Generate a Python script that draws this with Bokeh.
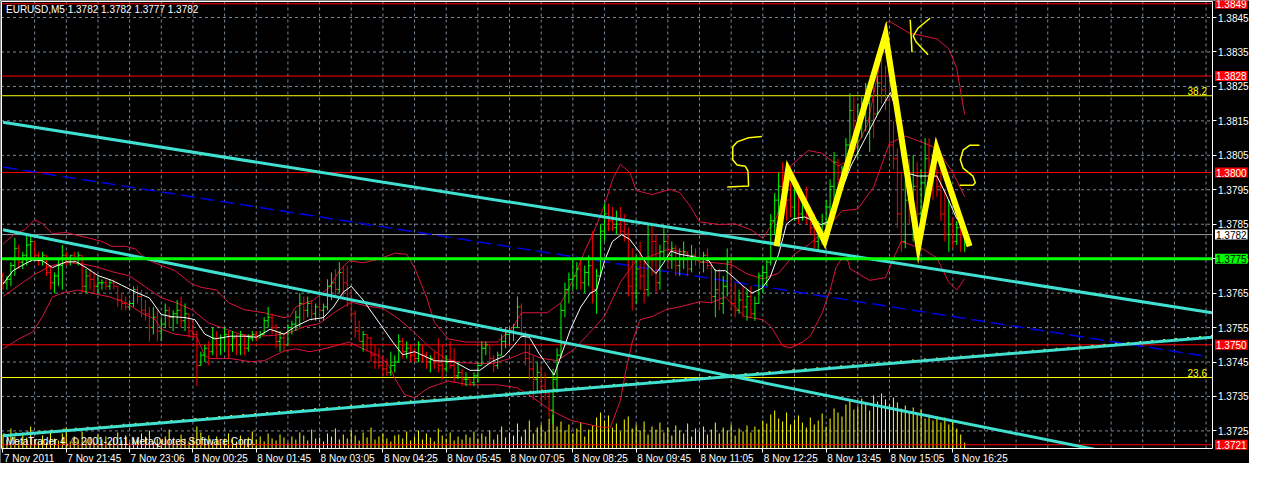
import numpy as np
from bokeh.plotting import figure
from bokeh.models import (Range1d, FixedTicker, Label, LabelSet, ColumnDataSource,
                          PrintfTickFormatter, LinearAxis)
from bokeh.transform import dodge
from bokeh.embed import file_html
from bokeh.resources import INLINE
from bokeh.core.properties import value

FONT = "Liberation Sans"
BASE = 1.3700
PIP = 0.0001

# ---------------- data (prices in pips above 1.3700) ----------------
high_pips = [71,70,74,81,79,77,82,82,80,77,77,76,73,71,75,79,77,76,77,77,
             76,72,72,71,70,69,69,69,69,67,65,64,63,67,67,66,63,61,61,60,
             58,62,61,60,63,64,62,59,57,54,48,50,51,55,54,53,55,54,54,53,
             54,53,53,54,54,54,58,61,59,56,54,53,56,57,60,65,64,64,63,62,
             64,62,69,71,72,74,73,73,66,60,57,54,53,52,50,49,47,46,48,47,
             53,52,51,50,49,51,50,48,47,48,52,50,47,51,49,45,43,42,40,42,
             45,51,51,50,47,48,53,55,55,56,64,62,54,50,47,45,44,42,37,43,
             49,62,68,71,75,74,75,73,76,83,72,85,91,91,90,89,90,88,84,78,
             76,80,75,85,85,82,79,84,82,80,79,78,80,77,79,78,78,77,78,73,
             72,72,70,78,76,68,66,67,66,67,64,71,73,75,88,94,100,103,99,97,
             98,97,94,96,90,88,86,88,92,98,106,104,102,110,123,122,120,122,126,124,
             125,128,133,131,126,115,107,100,98,104,105,103,101,110,110,104,102,101,95,92,
             87,86,85,82]
low_pips = [66,66,67,70,72,72,73,74,75,73,73,70,66,65,67,66,73,73,74,73,
            65,65,66,65,65,66,66,66,66,61,60,60,60,61,62,58,57,51,53,51,
            51,55,55,54,56,55,54,52,52,38,44,45,44,47,46,47,48,46,48,47,
            47,47,48,51,51,52,53,55,53,49,48,48,50,53,54,55,57,58,57,57,
            58,57,60,63,64,65,64,61,57,52,51,48,48,45,43,43,41,41,41,42,
            45,46,46,45,45,45,45,43,42,43,42,40,42,43,39,40,38,38,38,38,
            39,44,47,45,42,43,47,49,50,51,55,52,44,40,34,36,33,34,29,27,
            36,46,58,62,66,66,66,65,67,62,59,70,80,83,83,82,82,80,64,60,
            62,66,62,64,70,65,66,75,72,72,70,70,72,70,71,73,72,71,72,62,
            58,60,59,64,60,58,59,58,57,58,57,62,65,67,73,82,88,90,86,87,
            86,85,86,85,82,78,77,79,84,86,92,94,95,98,102,108,104,110,112,106,
            110,117,120,118,104,101,84,77,78,85,80,82,83,92,95,92,93,86,80,77,
            78,79,77,77]
close_pips = [68,69,73,78,74,76,79,80,76,75,76,71,68,70,73,76,75,76,75,76,
              67,70,69,67,68,68,67,68,67,63,62,61,62,66,64,60,59,55,58,54,
              56,60,58,59,60,57,59,54,53,44,47,49,48,52,50,52,53,50,52,50,
              53,49,52,53,52,53,57,58,55,51,52,50,55,56,58,62,60,62,59,61,
              60,61,67,68,66,71,68,63,59,54,51,53,52,47,45,44,43,42,44,45,
              51,48,49,47,46,50,47,45,46,45,44,43,45,44,41,42,40,40,39,41,
              44,49,50,46,44,47,51,53,54,55,61,53,46,43,40,42,38,36,31,40,
              47,60,66,69,70,72,68,71,73,66,70,83,88,86,84,85,83,81,67,65,
              72,70,66,82,80,68,77,80,76,78,73,75,77,72,76,75,74,76,73,64,
              66,62,67,74,62,60,63,61,64,59,62,70,71,74,86,92,96,95,92,90,
              95,88,91,87,84,80,83,85,90,96,103,98,101,108,118,112,115,118,120,122,
              117,126,124,121,108,104,88,80,92,90,96,88,97,104,101,99,96,88,82,85,
              80,84,82,82]
first_open_pips = 70
volume = [14,9,20,12,8,16,11,22,9,7,13,6,18,10,8,15,21,7,12,9,
          17,8,11,6,14,9,12,7,10,16,8,13,6,11,9,15,12,18,7,10,
          8,12,19,9,6,14,10,7,11,22,16,9,13,8,12,6,10,15,9,7,
          13,8,11,17,9,12,7,15,10,8,14,11,6,12,9,16,13,8,19,10,
          11,7,15,12,20,9,14,10,18,13,8,16,11,21,9,12,15,10,7,13,
          14,10,17,8,12,18,9,15,11,7,20,13,10,16,8,12,9,14,11,17,
          10,15,12,18,9,14,22,11,16,13,25,12,19,28,15,21,24,17,30,34,
          22,27,18,24,15,20,26,12,19,23,31,36,28,33,21,25,17,29,32,20,
          24,18,27,14,22,19,26,16,21,13,23,18,15,25,12,20,17,22,14,19,
          26,15,21,18,24,13,20,17,23,16,22,19,28,25,34,38,30,27,36,24,
          29,33,26,21,31,24,28,35,22,30,40,36,32,44,48,39,42,50,45,38,
          53,47,55,49,44,51,46,40,43,37,41,35,39,30,34,28,32,26,31,24,
          27,20,14,6]

# moving average (white) read at bar positions
ma_idx = [0,2.5,6,7.5,10,12.5,16,18.5,21,24,27.5,30,33.5,37,40,42.5,46,48.5,51,53.5,
          57.5,61,64,67.5,71,74,77.5,81,83.5,86,88,91,95,98.5,101,104,109,114,118,120.5,
          123.5,126.75,129,131,133,135.5,137.6,139.25,141,143.4,146,148.4,150,152,154,156.3,158.4,161,162.6,165,
          166.75,168.8,171,173.4,176,178.4,180,182.6,184.7,186.75,189.25,191.75,193.8,196,198,199.7,202.6,206.75,208.4,211,
          214.25,217.6,221,224.25,226,228.4,231,233.4,236,238.4,241,242.6]
ma_pips = [67.6,71.5,73.8,74.6,74.4,72.4,74.1,74.1,72.4,70.1,68.7,67.3,65.3,63.6,58.8,58.2,57.9,57.3,53.1,51.7,
           52.5,52.5,52.2,54.5,53.1,55.4,57.3,57.9,61.0,65.3,67.0,63.0,56.5,50.8,47.1,48.0,45.4,45.1,42.6,42.6,
           45.1,46.8,49.7,52.5,52.2,47.4,44.0,41.2,46.8,54.5,61.0,65.0,65.9,74.4,80.0,82.0,80.6,76.6,73.5,70.7,
           73.5,77.2,76.3,75.8,75.2,74.4,71.5,71.5,69.5,67.3,65.0,66.4,69.5,76.3,85.1,86.6,87.1,84.9,85.7,92.2,
           101.9,109.3,116.9,123.2,116.9,99.9,99.0,99.0,99.0,93.4,86.6,84.9]

# Bollinger bands (red)
bb_up_idx = [0,3,5.5,8,10,12.5,16,19,22,25,27.5,31,33.5,36,39,43.5,47.5,50,54,57,
             61,66,71,72.5,74,78.5,82.5,85,87.5,91,95,99,102,104,107,109,112.5,117,125,129,
             131,137.5,141,144,147,149,152,154,156,158.5,160,164,168.5,171,173.5,176,181,185,189,192,
             195.5,199,203.5,207,211,214,218.5,221,223,224,229,236,239,241,243]
bb_up_pips = [79.2,82.3,83.4,86.3,85.1,82.3,82.6,81.7,80.9,80.0,78.6,78.6,77.8,74.9,73.5,71.5,67.8,66.7,65.9,62.2,
              60.2,59.3,57.9,58.2,61.0,63.0,66.7,71.5,74.4,73.8,74.9,76.6,76.3,72.4,63.9,56.5,51.7,50.8,50.8,55.4,
              59.3,59.3,62.2,68.7,77.2,82.0,90.5,97.9,102.4,99.9,94.8,93.6,95.1,94.2,90.5,85.7,84.9,85.1,83.4,80.9,
              87.1,101.9,106.4,105.6,101.9,103.6,114.1,128.3,143.3,143.9,140.5,138.8,135.9,130.2,116.9]
bb_mid_idx = list(range(0, 241, 4)) + [243]
bb_mid_pips = [64.0,67.3,70.4,72.9,73.9,73.5,72.5,71.1,70.0,66.8,63.7,62.1,60.0,56.3,54.7,53.0,52.5,52.7,53.3,55.2,
               56.2,59.6,62.4,61.2,60.6,57.5,53.5,49.1,45.8,44.8,44.6,44.6,46.0,47.9,46.1,45.4,48.4,53.2,58.3,68.1,
               74.5,75.9,77.7,76.9,74.1,73.8,73.3,70.6,69.1,70.8,76.3,79.4,83.6,88.9,89.4,95.8,108.5,110.6,108.9,107.0,
               100.0,93.0]
bb_lo_idx = [0,4,7.5,10,12.5,15,19,22.5,27,31,35,38.5,40,43.5,47.5,49,51,52.5,57.5,62.5,
             66,68.5,71,74,77.5,81,84,87.5,91,95,97.5,99,101.5,104,107.5,112.5,117.5,125,130,134,
             138.5,143.5,147.5,151,153.5,156,157.5,159,161,164,167.5,171,176,179,182.5,185,187.5,192,194,197,
             199,202,204,207,209,210.5,212,213.5,214,219,223,225.5,227,232.5,236,239,241,243]
bb_lo_pips = [48.8,51.7,53.7,58.2,63.9,65.0,65.9,65.0,63.9,62.2,59.3,57.3,54.5,53.1,52.5,52.2,46.8,46.0,46.0,45.1,
              45.4,46.8,48.2,48.8,48.0,48.8,49.7,50.8,48.8,46.8,44.0,40.3,35.5,34.6,37.5,39.5,38.4,38.4,37.5,34.6,
              30.9,28.1,27.0,26.1,26.1,33.8,43.2,50.8,57.3,58.2,60.2,61.0,62.5,62.2,63.9,61.0,58.2,57.3,55.4,49.7,
              49.1,50.8,52.5,59.3,65.9,72.4,75.2,74.4,72.1,68.7,69.5,76.3,80.0,77.8,75.2,68.1,65.9,69.2]

# trend lines (bar index, pips)
trend_x0 = [0, 0, 0]
trend_y0 = [114.6, 83.4, 23.6]
trend_x1 = [305.5, 305.5, 305.5]
trend_y1 = [59.3, 12.8, 52.2]
blue_x = [0, 304.25]
blue_y = [101.6, 46.6]

# horizontal levels
red_levels = [1.3849, 1.3828, 1.3800, 1.3750, 1.3721]
fib_levels = [1.38223, 1.37405]
fib_names = ["38.2", "23.6"]
bid_level = 1.3782
green_level = 1.3775

# hand drawn pattern (bar index, pips)
w_idx = [195.5, 198.4, 207.6, 223.0, 231.3, 235.9, 244.25]
w_pips = [78.6, 100.8, 80.0, 140.1, 78.6, 107.0, 78.6]
sketch_idx = [
    [191.75, 188.4, 185.5, 184.4, 184.4, 185.5, 187.6, 188.25, 188.4, 183.0],
    [246.75, 244.25, 242.6, 241.9, 242.6, 245.1, 245.7, 245.1, 241.75],
    [229.25, 229.7],
    [234.25, 231.25, 230.0, 230.75, 233.75],
]
sketch_pips = [
    [110.5, 110.1, 108.9, 107.5, 103.7, 102.2, 101.8, 100.4, 96.1, 95.8],
    [107.9, 107.9, 106.5, 103.7, 101.3, 98.96, 97.06, 96.3, 96.3],
    [144.35, 134.9],
    [144.8, 141.97, 139.6, 137.9, 134.2],
]

# axes
price_ticks = [1.3725, 1.3735, 1.3745, 1.3755, 1.3765, 1.3775, 1.3785,
               1.3795, 1.3805, 1.3815, 1.3825, 1.3835, 1.3845]
time_tick_idx = [0, 16, 32, 48, 64, 80, 96, 112, 128, 144, 160, 176, 192, 208, 224, 240]
time_tick_labels = ["7 Nov 2011", "7 Nov 21:45", "7 Nov 23:06", "8 Nov 00:25", "8 Nov 01:45",
                    "8 Nov 03:05", "8 Nov 04:25", "8 Nov 05:45", "8 Nov 07:05", "8 Nov 08:25",
                    "8 Nov 09:45", "8 Nov 11:05", "8 Nov 12:25", "8 Nov 13:45", "8 Nov 15:05",
                    "8 Nov 16:25"]
grid_time_idx = list(range(8, 305, 8))
title_text = "EURUSD,M5  1.3782 1.3782 1.3777 1.3782"
copyright_text = "MetaTrader 4, \u00a9 2001-2011 MetaQuotes Software Corp."

# ---------------- geometry (layout only) ----------------
W, H = 1249, 463
CH_X0, CH_X1 = -0.5, 305.5           # chart area in bar units
CH_Y0, CH_Y1 = 1.37199, 1.38498      # chart area in price
CX0_PX, CX1_PX = 0.5, 1211.5         # canvas x of chart edges
CY0_PX, CY1_PX = 0.5, 448.0          # canvas y (top, bottom) of chart edges
kx = (CX1_PX - CX0_PX) / (CH_X1 - CH_X0)
ky = (CY1_PX - CY0_PX) / (CH_Y1 - CH_Y0)
FR_X0 = CH_X0 - CX0_PX / kx
FR_X1 = CH_X1 + (W - CX1_PX) / kx
FR_Y1 = CH_Y1 + CY0_PX / ky
FR_Y0 = CH_Y0 - (H - CY1_PX) / ky

def px(a):
    return [BASE + v * PIP for v in a]

n = len(close_pips)
idx = list(range(n))
open_pips = [first_open_pips] + close_pips[:-1]
colors = ["#00ff00" if c >= o else "#ff0000" for o, c in zip(open_pips, close_pips)]
bars = ColumnDataSource(dict(idx=idx, hi=px(high_pips), lo=px(low_pips), op=px(open_pips),
                             cl=px(close_pips), col=colors, vol=volume))

p = figure(width=W, height=H, x_range=Range1d(FR_X0, FR_X1), y_range=Range1d(FR_Y0, FR_Y1),
           output_backend="svg", toolbar_location=None, x_axis_location="below",
           y_axis_location="right", background_fill_color="black", border_fill_color="black",
           min_border=0, min_border_left=0, min_border_right=0, min_border_top=0,
           min_border_bottom=0)
p.outline_line_color = None
vol_px_below = (H - CY1_PX)
p.extra_y_ranges = {"vol": Range1d(-vol_px_below, CY1_PX)}
p.xgrid.visible = False
p.ygrid.visible = False

# bottom time axis (ticks), fixed at chart bottom
xa = p.xaxis[0]
xa.fixed_location = CH_Y0
xa.bounds = (CH_X0, CH_X1)
xa.ticker = FixedTicker(ticks=time_tick_idx)
xa.major_label_text_color = None
xa.axis_line_color = "white"
xa.major_tick_line_color = "white"
xa.major_tick_out = 4
xa.major_tick_in = 0
xa.minor_tick_line_color = None

# right price axis, fixed at chart right edge
ya = p.yaxis[0]
ya.fixed_location = CH_X1
ya.bounds = (CH_Y0, CH_Y1)
ya.ticker = FixedTicker(ticks=price_ticks)
ya.formatter = PrintfTickFormatter(format="%.4f")
ya.major_label_text_color = "white"
ya.major_label_text_font = FONT
ya.major_label_text_font_size = "10px"
ya.axis_line_color = "white"
ya.major_tick_line_color = "white"
ya.major_tick_out = 4
ya.major_tick_in = 0
ya.major_label_standoff = 2
ya.minor_tick_line_color = None

# left and top borders as plain axes
left_ax = LinearAxis(fixed_location=CH_X0, bounds=(CH_Y0, CH_Y1), axis_line_color="white",
                     major_tick_line_color=None, minor_tick_line_color=None,
                     major_label_text_color=None)
top_ax = LinearAxis(fixed_location=CH_Y1, bounds=(CH_X0, CH_X1), axis_line_color="white",
                    major_tick_line_color=None, minor_tick_line_color=None,
                    major_label_text_color=None)
p.add_layout(left_ax, "left")
p.add_layout(top_ax, "above")

# dashed grid limited to chart area
grid_color = "#778899"
p.segment(x0=grid_time_idx, y0=CH_Y0, x1=grid_time_idx, y1=CH_Y1,
          line_color=grid_color, line_dash="3 3", line_width=1)
p.segment(x0=CH_X0, y0=price_ticks, x1=CH_X1, y1=price_ticks,
          line_color=grid_color, line_dash="3 3", line_width=1)

# volumes
p.segment(x0="idx", y0=0, x1="idx", y1="vol", source=bars, y_range_name="vol",
          line_color="#ffff00", line_width=1)

# horizontal levels
p.segment(x0=CH_X0, y0=red_levels, x1=CH_X1, y1=red_levels, line_color="#ff0000", line_width=1)
p.segment(x0=CH_X0, y0=fib_levels, x1=CH_X1, y1=fib_levels, line_color="#ffff00", line_width=1)
p.segment(x0=CH_X0, y0=[bid_level], x1=CH_X1, y1=[bid_level], line_color="#9a9a9a", line_width=1)

# blue dashed line
p.line(blue_x, px(blue_y), line_color="#0000e6", line_width=1.5, line_dash="14 6")

# bands + MA
band_color = "#dc143c"
p.line(bb_up_idx, px(bb_up_pips), line_color=band_color, line_width=1)
p.line(bb_mid_idx, px(bb_mid_pips), line_color=band_color, line_width=1)
p.line(bb_lo_idx, px(bb_lo_pips), line_color=band_color, line_width=1)

# OHLC bars
p.segment(x0="idx", y0="lo", x1="idx", y1="hi", source=bars, line_color="col", line_width=1)
p.segment(x0=dodge("idx", -0.5), y0="op", x1="idx", y1="op", source=bars, line_color="col", line_width=1)
p.segment(x0="idx", y0="cl", x1=dodge("idx", 0.5), y1="cl", source=bars, line_color="col", line_width=1)

p.line(ma_idx, px(ma_pips), line_color="white", line_width=1)

# yellow dotted companion of the rising trend line (shows along its upper edge)
p.segment(x0=trend_x0[2:], y0=[v + 1.6 / ky for v in px(trend_y0[2:])],
          x1=trend_x1[2:], y1=[v + 1.6 / ky for v in px(trend_y1[2:])],
          line_color="#ffff00", line_width=1, line_dash="2 10")

# trend lines
p.segment(x0=trend_x0, y0=px(trend_y0), x1=trend_x1, y1=px(trend_y1),
          line_color="#40e0d0", line_width=3)

# green level
p.segment(x0=CH_X0, y0=[green_level], x1=CH_X1, y1=[green_level], line_color="#00ff00", line_width=3)

# yellow sketches
p.line(w_idx, px(w_pips), line_color="#ffff00", line_width=6, line_join="miter")
p.multi_line(xs=sketch_idx, ys=[px(s) for s in sketch_pips], line_color="#ffff00", line_width=1.5)

# mask below chart area (the trend line running out of the chart)
p.quad(left=FR_X0, right=FR_X1, bottom=FR_Y0, top=CH_Y0 - 0.3 / ky, fill_color="black",
       line_color=None)

# texts
p.add_layout(Label(x=CH_X0, y=CH_Y1, x_offset=5, y_offset=-3, text=title_text, text_color="white",
                   text_font=FONT, text_font_size="10px", text_baseline="top"))
p.add_layout(Label(x=CH_X0, y=CH_Y0, x_offset=5, y_offset=2, text=copyright_text, text_color="white",
                   text_font=FONT, text_font_size="10px", text_baseline="bottom"))

for lvl, name in zip(fib_levels, fib_names):
    p.add_layout(Label(x=CH_X1, y=lvl, x_offset=-5, y_offset=1, text=name, text_color="#ffff00",
                       text_font=FONT, text_font_size="10px", text_align="right",
                       text_baseline="bottom"))

box_levels = red_levels + [bid_level, green_level]
box_fill = ["#ff0000"] * len(red_levels) + ["white", "#00ff00"]
box_text = ["white"] * len(red_levels) + ["black", "black"]
for lvl, bf, tc in zip(box_levels, box_fill, box_text):
    p.add_layout(Label(x=CH_X1, y=lvl, x_offset=3, text=f"{lvl:.4f}", text_color=tc,
                       text_font=FONT, text_font_size="10px", text_align="left",
                       text_baseline="middle", background_fill_color=bf,
                       background_fill_alpha=1.0, padding=1))

tsrc = ColumnDataSource(dict(x=time_tick_idx, y=[CH_Y0] * len(time_tick_idx), t=time_tick_labels))
p.add_layout(LabelSet(x="x", y="y", text="t", source=tsrc, x_offset=1, y_offset=-4,
                      text_align="left", text_baseline="top", text_color="white",
                      text_font=value(FONT), text_font_size="10px"))

open("out.html", "w").write(file_html(p, INLINE))
